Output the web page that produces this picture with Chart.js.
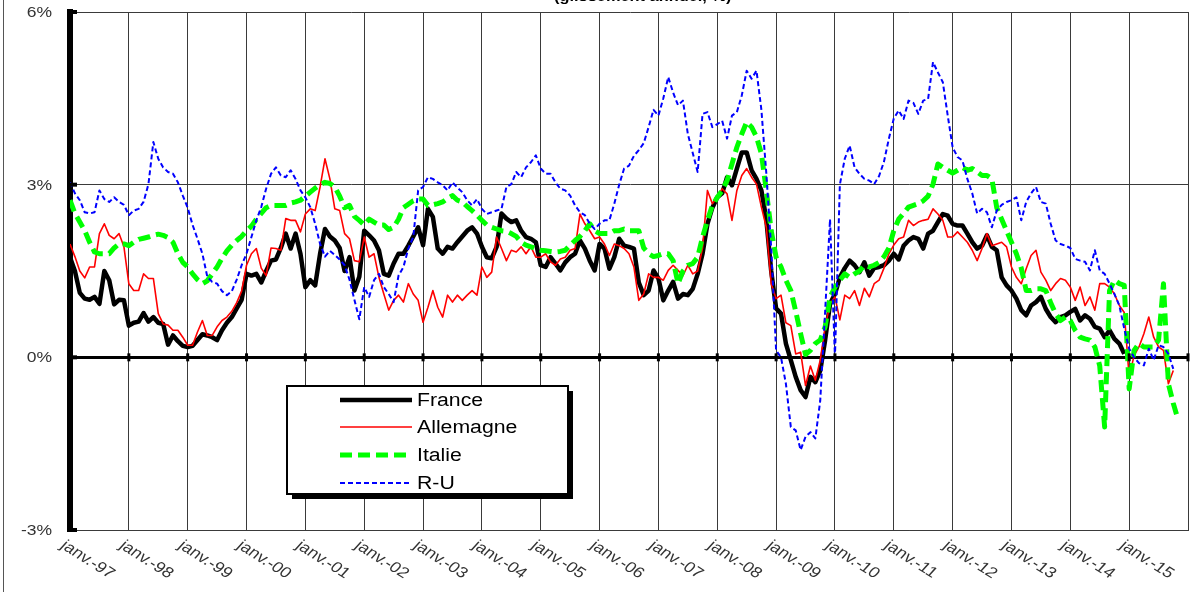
<!DOCTYPE html>
<html>
<head>
<meta charset="utf-8">
<script src="https://cdn.jsdelivr.net/npm/chart.js@4.4.1/dist/chart.umd.min.js"></script>
<style>
  html, body { margin: 0; padding: 0; background: #fff; }
  #wrap { width: 1198px; height: 592px; }
</style>
</head>
<body>
<div id="wrap"><canvas id="chart" width="1198" height="592"></canvas></div>
<script>
// glissement annuel des prix, mensuel, janv. 1997 -> 2015
const titleText = '(glissement annuel, %)';
const seriesNames = ['France', 'Allemagne', 'Italie', 'R-U'];
const yTickValues = [-3, 0, 3, 6];
const yTickLabels = ['-3%', '0%', '3%', '6%'];
const xTickLabels = ['janv.-97', 'janv.-98', 'janv.-99', 'janv.-00', 'janv.-01', 'janv.-02',
    'janv.-03', 'janv.-04', 'janv.-05', 'janv.-06', 'janv.-07', 'janv.-08', 'janv.-09',
    'janv.-10', 'janv.-11', 'janv.-12', 'janv.-13', 'janv.-14', 'janv.-15'];

const franceValues = [
    1.74, 1.5, 1.12, 1.02, 1.0, 1.05, 0.93, 1.5, 1.34, 0.92, 1.0, 0.99,
    0.55, 0.6, 0.62, 0.77, 0.62, 0.7, 0.6, 0.58, 0.22, 0.38, 0.28, 0.2,
    0.18, 0.2, 0.3, 0.4, 0.38, 0.35, 0.3, 0.47, 0.6, 0.7, 0.85, 1.0,
    1.45, 1.42, 1.45, 1.3, 1.5, 1.68, 1.7, 1.9, 2.15, 1.89, 2.15, 1.8,
    1.22, 1.34, 1.25, 1.8, 2.23, 2.1, 2.03, 1.9, 1.5, 1.74, 1.16, 1.4,
    2.2, 2.12, 2.03, 1.86, 1.45, 1.42, 1.63, 1.8, 1.8, 1.94, 2.1, 2.26,
    1.95, 2.58, 2.44, 1.89, 1.8, 1.92, 1.89, 2.0, 2.1, 2.2, 2.26, 2.15,
    1.92, 1.74, 1.72, 1.92, 2.5, 2.41, 2.35, 2.38, 2.2, 2.09, 2.06, 2.0,
    1.6, 1.57, 1.74, 1.63, 1.51, 1.65, 1.74, 1.8, 2.03, 1.89, 1.68, 1.51,
    1.97, 1.89, 1.54, 1.74, 2.06, 1.94, 1.92, 1.89, 1.3, 1.08, 1.16, 1.51,
    1.37, 0.99, 1.16, 1.31, 1.02, 1.1, 1.08, 1.19, 1.45, 1.8, 2.32, 2.6,
    2.78, 2.85, 3.13, 2.99, 3.28, 3.56, 3.56, 3.25, 3.1, 2.9, 2.4, 1.5,
    0.85, 0.76, 0.24, -0.05, -0.34, -0.57, -0.69, -0.34, -0.43, -0.23, 0.3, 0.93,
    1.1, 1.39, 1.55, 1.68, 1.6, 1.48, 1.65, 1.42, 1.55, 1.57, 1.6, 1.68,
    1.8, 1.7, 1.94, 2.03, 2.09, 2.06, 1.89, 2.15, 2.2, 2.35, 2.49, 2.46,
    2.32, 2.29, 2.29, 2.15, 2.0, 1.89, 1.94, 2.12, 1.92, 1.86, 1.39, 1.25,
    1.16, 1.02, 0.82, 0.73, 0.9, 0.96, 1.05, 0.84, 0.7, 0.61, 0.7, 0.73,
    0.79, 0.84, 0.64, 0.73, 0.67, 0.53, 0.5, 0.35, 0.47, 0.32, 0.24, 0.06
];

const allemagneValues = [
    1.97, 1.75, 1.5, 1.38, 1.57, 1.57, 2.15, 2.32, 2.12, 2.06, 2.15, 1.92,
    1.28, 1.16, 1.16, 1.45, 1.37, 1.37, 0.76, 0.58, 0.56, 0.47, 0.47, 0.35,
    0.21, 0.21, 0.44, 0.64, 0.38, 0.38, 0.53, 0.64, 0.7, 0.8, 0.95, 1.15,
    1.6, 1.8, 1.89, 1.55, 1.42, 1.9, 1.89, 1.86, 2.41, 2.38, 2.38, 2.18,
    2.49, 2.58, 2.55, 2.96, 3.45, 3.1, 2.58, 2.55, 2.15, 2.06, 1.68, 1.66,
    2.09, 1.74, 1.8, 1.39, 1.1, 0.82, 0.99, 1.08, 0.96, 1.28, 1.1, 0.99,
    0.61, 0.87, 1.16, 0.87, 0.7, 1.08, 0.96, 1.08, 0.99, 1.08, 1.16, 1.08,
    1.57, 1.39, 1.48, 2.09, 1.89, 1.68, 1.86, 1.83, 1.92, 1.8, 1.92, 1.74,
    1.74, 1.8, 1.66, 1.6, 1.71, 1.74, 1.86, 1.89, 2.49, 2.32, 2.2, 2.06,
    2.09, 1.97, 1.77, 1.97, 1.94, 1.89, 1.8, 1.57, 0.99, 1.1, 1.45, 1.39,
    1.39, 1.34, 1.51, 1.6, 1.51, 1.42, 1.6, 1.45, 1.5, 1.9, 2.9, 2.67,
    2.78, 2.93, 2.84, 2.38, 2.9, 3.16, 3.28, 3.13, 3.01, 2.61, 2.26, 1.28,
    1.02, 1.08, 0.6, 0.55, 0.06, 0.09, -0.49, -0.15, -0.4, -0.05, 0.53, 0.93,
    1.05, 0.65, 1.08, 1.02, 1.16, 0.9, 1.2, 1.05, 1.28, 1.34, 1.55, 1.8,
    1.95, 2.06, 2.09, 2.38, 2.29, 2.35, 2.38, 2.4, 2.58, 2.49, 2.38, 2.09,
    2.09, 2.18, 2.09, 2.0, 1.86, 1.68, 1.89, 2.15, 1.94, 1.97, 2.0, 1.92,
    1.57, 1.39, 1.28, 1.54, 1.77, 1.86, 1.48, 1.34, 1.16, 1.28, 1.37, 1.34,
    1.22, 0.99, 1.22, 0.9, 1.05, 0.82, 1.28, 1.28, 1.22, 1.1, 0.9, 0.78,
    -0.34, 0.03, 0.18, 0.41, 0.7, 0.35, 0.18, 0.12, -0.46, -0.23
];

const italieValues = [
    2.73, 2.5, 2.35, 2.2, 2.0, 1.83, 1.8, 1.8, 1.8, 1.9, 1.97, 1.97,
    1.94, 2.0, 2.05, 2.07, 2.09, 2.12, 2.14, 2.12, 2.08, 2.0, 1.8, 1.65,
    1.57, 1.45, 1.35, 1.28, 1.33, 1.45, 1.57, 1.72, 1.85, 1.95, 2.03, 2.1,
    2.2, 2.28, 2.4, 2.5, 2.6, 2.64, 2.64, 2.64, 2.64, 2.68, 2.7, 2.73,
    2.8, 2.87, 2.94, 3.0, 3.04, 3.02, 2.96, 2.8, 2.6, 2.64, 2.45, 2.38,
    2.3, 2.4, 2.35, 2.3, 2.3, 2.22, 2.26, 2.4, 2.6, 2.66, 2.72, 2.75,
    2.75, 2.64, 2.65, 2.67, 2.7, 2.76, 2.81, 2.73, 2.7, 2.62, 2.55, 2.47,
    2.38, 2.3, 2.26, 2.23, 2.2, 2.19, 2.15, 2.1, 2.0, 1.95, 1.92, 1.89,
    1.86, 1.85, 1.84, 1.83, 1.84, 1.86, 1.95, 2.03, 2.1, 2.2, 2.32, 2.2,
    2.15, 2.15, 2.15, 2.2, 2.2, 2.23, 2.2, 2.2, 2.2, 1.9, 1.8, 1.75,
    1.77, 1.8, 1.8, 1.68, 1.28, 1.5, 1.6, 1.63, 1.74, 2.09, 2.38, 2.64,
    2.78, 2.9, 3.07, 3.36, 3.65, 3.88, 4.09, 4.0, 3.83, 3.54, 2.9, 2.2,
    1.74, 1.57, 1.34, 1.16, 0.8, 0.41, 0.05, 0.12, 0.24, 0.3, 0.53, 1.05,
    1.22, 1.34, 1.45, 1.39, 1.45, 1.5, 1.6, 1.57, 1.6, 1.65, 1.75, 1.9,
    2.2, 2.4, 2.5, 2.61, 2.64, 2.67, 2.72, 2.8, 3.01, 3.36, 3.3, 3.25,
    3.2, 3.25, 3.3, 3.25, 3.28, 3.22, 3.16, 3.16, 3.1, 2.6, 2.4, 2.2,
    2.0, 1.8, 1.55, 1.16, 1.16, 1.19, 1.19, 1.16, 0.95, 0.76, 0.64, 0.7,
    0.64, 0.47, 0.35, 0.32, 0.3, 0.18, -0.15, -1.21, 1.16, 1.34, 1.28, 1.25,
    -0.55, 0.12, 0.24, 0.18, 0.18, 0.18, 0.3, 1.28, -0.46, -0.8, -1.09
];

const ruValues = [
    3.04, 2.85, 2.73, 2.52, 2.5, 2.52, 2.9, 2.75, 2.7, 2.78, 2.7, 2.65,
    2.47, 2.55, 2.58, 2.7, 3.01, 3.74, 3.45, 3.3, 3.22, 3.19, 3.04, 2.81,
    2.6, 2.3, 2.06, 1.8, 1.4, 1.31, 1.28, 1.15, 1.08, 1.15, 1.35, 1.6,
    1.8, 2.09, 2.38, 2.61, 2.93, 3.19, 3.3, 3.16, 3.13, 3.25, 3.1, 2.9,
    2.78, 2.61, 2.32, 1.97, 1.75, 1.85, 1.78, 1.7, 1.6, 1.35, 1.0, 0.66,
    1.22, 1.05, 1.34, 1.45, 1.22, 1.1, 0.96, 1.42, 1.57, 1.89, 2.09, 2.9,
    2.96, 3.13, 3.1, 3.04, 2.99, 2.9, 3.04, 2.95, 2.87, 2.73, 2.64, 2.75,
    2.58, 2.49, 2.52, 2.55, 2.58, 2.96, 3.01, 3.22, 3.13, 3.3, 3.39, 3.51,
    3.28, 3.19, 3.19, 3.04, 2.93, 2.9, 2.81, 2.64, 2.52, 2.47, 2.32, 2.23,
    2.32, 2.38, 2.38, 2.67, 3.0, 3.28, 3.33, 3.5, 3.6, 3.72, 4.0, 4.3,
    4.2, 4.5, 4.87, 4.6, 4.38, 4.46, 3.88, 3.55, 3.22, 4.23, 4.26, 4.0,
    4.05, 4.11, 3.8, 4.2, 4.26, 4.55, 4.98, 4.84, 4.98, 4.3, 3.2, 1.9,
    0.12, 0.0, -0.46, -1.21, -1.27, -1.61, -1.38, -1.3, -1.41, -0.75, 0.8, 2.4,
    0.0, 3.0, 3.45, 3.68, 3.3, 3.19, 3.1, 3.07, 3.01, 3.15, 3.4, 3.8,
    4.15, 4.29, 4.14, 4.46, 4.42, 4.23, 4.46, 4.49, 5.13, 4.95, 4.78, 4.2,
    3.65, 3.48, 3.42, 3.1, 2.85, 2.5, 2.58, 2.52, 2.26, 2.55, 2.65, 2.7,
    2.73, 2.78, 2.38, 2.7, 2.85, 2.96, 2.7, 2.67, 2.32, 2.03, 1.97, 1.94,
    1.9, 1.71, 1.68, 1.66, 1.51, 1.86, 1.51, 1.45, 1.28, 1.1, 0.9, 0.5,
    0.15, 0.0, -0.1, -0.14, 0.15, -0.05, 0.21, 0.18, 0.06, -0.2
];

// x = mois depuis janv. 97
function toPoints(values) {
    return values.map((v, i) => ({ x: i, y: v }));
}

const GRID = '#3a3a3a';
const TXT_STRETCH = 1.2;   // the source picture is stretched horizontally

function stretchedText(ctx, text, x, y, sx, angle) {
    ctx.save();
    ctx.translate(x, y);
    ctx.scale(sx, 1);
    if (angle) ctx.rotate(angle);
    ctx.fillText(text, 0, 0);
    ctx.restore();
}

const decorPlugin = {
    id: 'decor',
    afterDraw(chart) {
        const ctx = chart.ctx;
        const xs = chart.scales.x;
        const ys = chart.scales.y;
        const area = chart.chartArea;

        // frame line on the far left
        ctx.save();
        ctx.strokeStyle = '#555';
        ctx.lineWidth = 1;
        ctx.beginPath();
        ctx.moveTo(3.5, 0);
        ctx.lineTo(3.5, 592);
        ctx.stroke();

        // tick marks on the y axis and on the zero line
        ctx.fillStyle = '#000';
        yTickValues.forEach(v => {
            const y = ys.getPixelForValue(v);
            ctx.fillRect(area.left - 3, y - 2, 10, 4);
        });
        const y0 = ys.getPixelForValue(0);
        for (let i = 1; i <= xTickLabels.length; i++) {
            const x = xs.getPixelForValue(i * 12);
            ctx.fillRect(x - 1.5, y0 - 4, 3, 8);
        }

        // y labels
        ctx.fillStyle = '#333';
        ctx.font = '14px "Liberation Sans", Arial, sans-serif';
        ctx.textAlign = 'right';
        ctx.textBaseline = 'middle';
        yTickValues.forEach((v, i) => {
            stretchedText(ctx, yTickLabels[i], 52, ys.getPixelForValue(v) + 1, 1.25, 0);
        });

        // x labels, slanted downwards
        ctx.textAlign = 'left';
        ctx.textBaseline = 'top';
        ctx.font = '15px "Liberation Sans", Arial, sans-serif';
        xTickLabels.forEach((lab, i) => {
            const x = xs.getPixelForValue(i * 12);
            stretchedText(ctx, lab, x - 2, area.bottom + 8, TXT_STRETCH, 0.65);
        });

        // title (cut off at the top of the picture)
        ctx.fillStyle = '#000';
        ctx.font = 'bold 14px "Liberation Sans", Arial, sans-serif';
        ctx.textAlign = 'left';
        ctx.textBaseline = 'alphabetic';
        stretchedText(ctx, titleText, 554, 0.5, 1.17, 0);

        // legend box with shadow
        const lx = 287, ly = 386, lw = 281, lh = 108;
        ctx.fillStyle = '#000';
        ctx.fillRect(lx + 5, ly + 5, lw, lh);
        ctx.fillStyle = '#fff';
        ctx.fillRect(lx, ly, lw, lh);
        ctx.strokeStyle = '#000';
        ctx.lineWidth = 2;
        ctx.strokeRect(lx, ly, lw, lh);

        const rowY = [400, 427, 455, 483];
        ctx.font = '18px "Liberation Sans", Arial, sans-serif';
        ctx.textBaseline = 'middle';
        chart.data.datasets.forEach((ds, i) => {
            ctx.save();
            ctx.strokeStyle = ds.borderColor;
            ctx.lineWidth = ds.borderWidth;
            ctx.setLineDash(ds.borderDash || []);
            ctx.beginPath();
            ctx.moveTo(340, rowY[i]);
            ctx.lineTo(412, rowY[i]);
            ctx.stroke();
            ctx.restore();
            ctx.fillStyle = '#000';
            stretchedText(ctx, ds.label, 417, rowY[i] + 1, 1.18, 0);
        });
        ctx.restore();
    }
};

new Chart(document.getElementById('chart'), {
    type: 'line',
    data: {
        datasets: [
            { label: seriesNames[0], data: toPoints(franceValues), borderColor: '#000000',
              borderWidth: 4.5, order: 4 },
            { label: seriesNames[1], data: toPoints(allemagneValues), borderColor: '#ff0000',
              borderWidth: 1.6, order: 3 },
            { label: seriesNames[2], data: toPoints(italieValues), borderColor: '#00ff00',
              borderWidth: 5, borderDash: [12, 6], order: 2 },
            { label: seriesNames[3], data: toPoints(ruValues), borderColor: '#0000ff',
              borderWidth: 2, borderDash: [5, 3], order: 1 }
        ]
    },
    options: {
        responsive: false,
        animation: false,
        events: [],
        layout: { padding: { left: 70, top: 12, right: 10, bottom: 62 } },
        elements: {
            point: { radius: 0 },
            line: { tension: 0, borderJoinStyle: 'round', fill: false }
        },
        plugins: {
            legend: { display: false },
            tooltip: { enabled: false },
            title: { display: false }
        },
        scales: {
            x: {
                type: 'linear',
                min: 0,
                max: 228,
                ticks: { display: false, stepSize: 12 },
                grid: { color: GRID, lineWidth: 1, drawTicks: false },
                border: { color: GRID, width: 1 }
            },
            y: {
                min: -3,
                max: 6,
                ticks: { display: false, stepSize: 3 },
                grid: {
                    color: c => (c.tick && c.tick.value === 0) ? '#000' : GRID,
                    lineWidth: c => (c.tick && c.tick.value === 0) ? 3 : 1,
                    drawTicks: false
                },
                border: { color: '#000', width: 6 }
            }
        }
    },
    plugins: [decorPlugin]
});
</script>
</body>
</html>
